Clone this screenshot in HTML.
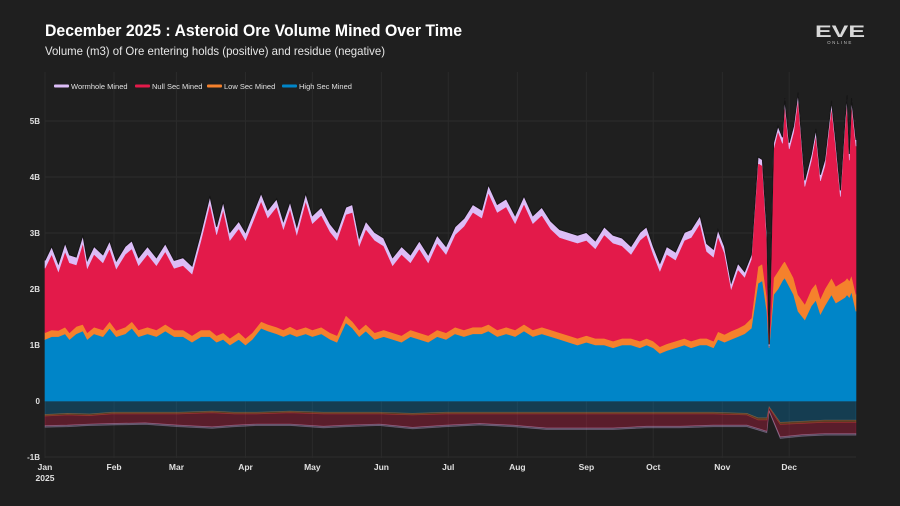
<!DOCTYPE html>
<html><head><meta charset="utf-8"><style>
html,body{margin:0;padding:0;background:#1f1f1f;}
svg{display:block;font-family:"Liberation Sans",sans-serif;}
</style></head><body>
<svg id="chart" width="900" height="506" viewBox="0 0 900 506" xmlns="http://www.w3.org/2000/svg">
<rect width="900" height="506" fill="#1f1f1f"/>
<text x="45" y="36" fill="#ffffff" font-size="17" font-weight="bold" textLength="417" lengthAdjust="spacingAndGlyphs">December 2025 : Asteroid Ore Volume Mined Over Time</text>
<text x="45" y="55" fill="#e6e6e6" font-size="12" textLength="340" lengthAdjust="spacingAndGlyphs">Volume (m3) of Ore entering holds (positive) and residue (negative)</text>
<g>
<text x="840" y="37" fill="#d8d8d8" font-size="17" font-weight="bold" text-anchor="middle" textLength="50" lengthAdjust="spacingAndGlyphs">EVE</text>
<text x="840" y="44" fill="#bdbdbd" font-size="4.5" text-anchor="middle" letter-spacing="1.5">ONLINE</text>
</g>
<g id="grid"></g>
<g id="areas"></g>
<g id="axes"></g>
<g id="legend"></g>
</svg>
<script>
const days=[0,3,6,9,11,14,17,19,22,26,29,32,36,39,42,46,50,54,58,62,66,70,74,77,80,83,87,90,93,97,100,104,107,110,113,117,120,124,128,131,135,138,141,144,148,152,156,160,164,168,172,176,180,184,188,192,196,199,203,207,211,215,219,223,227,231,235,239,243,247,251,255,259,263,267,270,273,276,279,283,287,290,294,297,300,302,305,308,311,314,317,320,322,324,325,327,329,331,332,334,336,338,341,344,346,348,350,353,355,357,359,360,361,362,364];
const highSec=[1.1,1.15,1.15,1.2,1.1,1.2,1.25,1.1,1.2,1.15,1.3,1.15,1.2,1.3,1.15,1.2,1.15,1.25,1.15,1.15,1.05,1.15,1.15,1.05,1.1,1.0,1.1,1.0,1.1,1.3,1.25,1.2,1.15,1.2,1.15,1.2,1.15,1.2,1.1,1.05,1.4,1.3,1.15,1.25,1.1,1.15,1.1,1.05,1.15,1.1,1.05,1.15,1.1,1.2,1.15,1.2,1.2,1.25,1.15,1.2,1.15,1.25,1.15,1.2,1.15,1.1,1.05,1.0,1.05,1.0,1.0,0.95,1.0,1.0,0.95,1.0,0.95,0.85,0.9,0.95,1.0,0.95,1.0,1.0,0.95,1.1,1.05,1.1,1.15,1.2,1.3,2.1,2.15,1.6,0.95,1.9,2.0,2.15,2.2,2.05,1.9,1.6,1.45,1.7,1.8,1.55,1.7,1.9,1.75,1.8,1.85,1.9,1.85,1.95,1.6];
const lowSec=[0.12,0.12,0.11,0.12,0.12,0.13,0.12,0.12,0.12,0.12,0.12,0.11,0.12,0.12,0.12,0.12,0.12,0.12,0.12,0.12,0.12,0.12,0.12,0.12,0.12,0.12,0.13,0.12,0.12,0.12,0.12,0.12,0.12,0.13,0.12,0.12,0.12,0.12,0.12,0.12,0.13,0.12,0.12,0.12,0.12,0.12,0.12,0.12,0.12,0.12,0.12,0.12,0.12,0.12,0.12,0.12,0.12,0.12,0.12,0.12,0.12,0.12,0.12,0.12,0.12,0.12,0.12,0.12,0.12,0.12,0.12,0.12,0.12,0.12,0.12,0.12,0.12,0.12,0.12,0.12,0.12,0.12,0.12,0.12,0.12,0.14,0.14,0.15,0.15,0.16,0.18,0.3,0.3,0.25,0.02,0.3,0.32,0.3,0.3,0.3,0.3,0.3,0.28,0.3,0.3,0.28,0.3,0.3,0.3,0.3,0.3,0.3,0.3,0.3,0.3];
const nullSec=[1.15,1.35,1.05,1.35,1.25,1.1,1.45,1.15,1.3,1.2,1.3,1.1,1.3,1.3,1.15,1.3,1.15,1.3,1.1,1.15,1.1,1.6,2.25,1.8,2.2,1.75,1.85,1.75,1.95,2.15,1.9,2.15,1.8,2.1,1.7,2.25,1.9,2.0,1.8,1.7,1.8,1.95,1.5,1.7,1.65,1.5,1.2,1.45,1.2,1.5,1.3,1.55,1.4,1.65,1.85,2.05,1.95,2.35,2.1,2.15,1.9,2.15,1.9,2.0,1.8,1.7,1.7,1.7,1.7,1.6,1.85,1.75,1.65,1.5,1.8,1.85,1.55,1.35,1.6,1.45,1.75,1.85,2.05,1.55,1.5,1.7,1.45,0.75,1.05,0.85,1.05,1.85,1.75,1.0,0.01,2.3,2.5,2.15,2.8,2.15,2.6,3.5,2.1,2.3,2.65,2.1,2.2,3.05,2.45,1.55,2.75,3.15,2.15,3.05,2.65];
const wormhole=[0.13,0.13,0.13,0.14,0.13,0.13,0.13,0.13,0.13,0.13,0.13,0.13,0.13,0.13,0.13,0.13,0.13,0.13,0.13,0.13,0.13,0.13,0.13,0.13,0.13,0.13,0.12,0.13,0.13,0.13,0.13,0.13,0.13,0.12,0.13,0.13,0.13,0.13,0.13,0.13,0.12,0.13,0.13,0.13,0.13,0.13,0.13,0.13,0.13,0.13,0.13,0.13,0.13,0.13,0.13,0.13,0.13,0.13,0.13,0.13,0.13,0.13,0.13,0.13,0.13,0.13,0.13,0.13,0.13,0.13,0.13,0.13,0.13,0.13,0.13,0.13,0.13,0.13,0.13,0.13,0.13,0.13,0.13,0.13,0.13,0.11,0.11,0.1,0.1,0.09,0.07,0.1,0.1,0.15,0.02,0.1,0.08,0.1,0.1,0.1,0.1,0.1,0.1,0.1,0.1,0.1,0.1,0.1,0.1,0.1,0.1,0.1,0.1,0.1,0.1];
const negDays=[0,10,20,30,45,60,75,85,95,110,125,135,150,165,180,195,210,225,240,255,270,285,300,315,320,324,325,330,340,350,364];
const highSecNeg=[-0.24,-0.22,-0.23,-0.2,-0.2,-0.2,-0.18,-0.2,-0.2,-0.18,-0.2,-0.2,-0.2,-0.22,-0.2,-0.2,-0.2,-0.2,-0.2,-0.2,-0.2,-0.2,-0.2,-0.22,-0.3,-0.3,-0.1,-0.38,-0.36,-0.34,-0.34];
const lowSecNeg=[-0.03,-0.03,-0.03,-0.03,-0.03,-0.03,-0.03,-0.03,-0.03,-0.03,-0.03,-0.03,-0.03,-0.03,-0.03,-0.03,-0.03,-0.03,-0.03,-0.03,-0.03,-0.03,-0.03,-0.03,-0.04,-0.04,-0.02,-0.04,-0.04,-0.04,-0.04];
const nullSecNeg=[-0.17,-0.18,-0.15,-0.17,-0.16,-0.2,-0.25,-0.2,-0.18,-0.2,-0.22,-0.2,-0.18,-0.22,-0.2,-0.17,-0.2,-0.25,-0.25,-0.25,-0.22,-0.22,-0.2,-0.18,-0.15,-0.2,-0.05,-0.22,-0.2,-0.2,-0.2];
const wormholeNeg=[-0.03,-0.03,-0.03,-0.03,-0.03,-0.03,-0.03,-0.03,-0.03,-0.03,-0.03,-0.03,-0.03,-0.03,-0.03,-0.03,-0.03,-0.03,-0.03,-0.03,-0.03,-0.03,-0.03,-0.03,-0.03,-0.03,-0.02,-0.03,-0.03,-0.03,-0.03];
const yTicks=[-1,0,1,2,3,4,5];
const yTickLabels=["-1B","0","1B","2B","3B","4B","5B"];
const monthDays=[0,31,59,90,120,151,181,212,243,273,304,334];
const monthLabels=["Jan","Feb","Mar","Apr","May","Jun","Jul","Aug","Sep","Oct","Nov","Dec"];

const NS="http://www.w3.org/2000/svg";
const X0=45,X1=856,D1=364;
function xs(d){return X0+(X1-X0)*d/D1;}
function ys(v){return 401-56*v;}
function mk(tag,attrs,parent){const e=document.createElementNS(NS,tag);for(const k in attrs)e.setAttribute(k,attrs[k]);parent.appendChild(e);return e;}
const grid=document.getElementById('grid'),areas=document.getElementById('areas'),axes=document.getElementById('axes'),legend=document.getElementById('legend');

yTicks.forEach((t,i)=>{
  const l=mk('line',{x1:X0,x2:X1,y1:ys(t),y2:ys(t),stroke:'#2e2e2e','stroke-width':1},grid);
  
  
  const tx=mk('text',{x:40,y:ys(t)+3,fill:'#e0e0e0','font-size':8,'font-weight':'bold','text-anchor':'end'},axes);
  tx.textContent=yTickLabels[i];
  
  
});
monthDays.forEach((d,i)=>{
  const l=mk('line',{x1:xs(d),x2:xs(d),y1:72,y2:458,stroke:'#2a2a2a','stroke-width':1},grid);
  
  
  const tx=mk('text',{x:xs(d),y:470,fill:'#e0e0e0','font-size':8.5,'font-weight':'bold','text-anchor':'middle'},axes);
  tx.textContent=monthLabels[i];
  
  
});
const yr=mk('text',{x:xs(0),y:481,fill:'#e0e0e0','font-size':8.5,'font-weight':'bold','text-anchor':'middle'},axes);
yr.textContent='2025';



function stackArea(dArr,series,colors,names,opacity,edge){
  let base=dArr.map(()=>0);
  series.forEach((s,si)=>{
    const top=base.map((b,i)=>b+s[i]);
    let p='M'+dArr.map((d,i)=>xs(d).toFixed(1)+','+ys(top[i]).toFixed(1)).join('L');
    for(let i=dArr.length-1;i>=0;i--)p+='L'+xs(dArr[i]).toFixed(1)+','+ys(base[i]).toFixed(1);
    p+='Z';
    const a=mk('path',{d:p,fill:colors[si],'fill-opacity':opacity,stroke:colors[si],'stroke-opacity':opacity,'stroke-width':0.6},areas);
    
    
    base=top;
  });
  if(edge){
    const e=mk('path',{d:'M'+dArr.map((d,i)=>xs(d).toFixed(1)+','+(ys(base[i])-0.6).toFixed(1)).join('L'),fill:'none',stroke:'#151515','stroke-width':1},areas);
    
    
  }
}
const cols=['#0085c8','#f5812c','#e31a4a','#dcbdf7'];
stackArea(days,[highSec,lowSec,nullSec,wormhole],cols,['area-high-sec','area-low-sec','area-null-sec','area-wormhole'],1,true);
stackArea(negDays,[highSecNeg,lowSecNeg,nullSecNeg,wormholeNeg],cols,['area-high-sec-residue','area-low-sec-residue','area-null-sec-residue','area-wormhole-residue'],0.3,false);

const legItems=[["Wormhole Mined",'#dcbdf7',54],["Null Sec Mined",'#e31a4a',135],["Low Sec Mined",'#f5812c',207],["High Sec Mined",'#0085c8',282]];
legItems.forEach(it=>{
  const g=mk('g',{},legend);
  
  
  mk('rect',{x:it[2],y:84.5,width:15,height:3,rx:1,fill:it[1]},g);
  const t=mk('text',{x:it[2]+17,y:89,fill:'#e0e0e0','font-size':7.5},g);
  t.textContent=it[0];
});
</script>
</body></html>
